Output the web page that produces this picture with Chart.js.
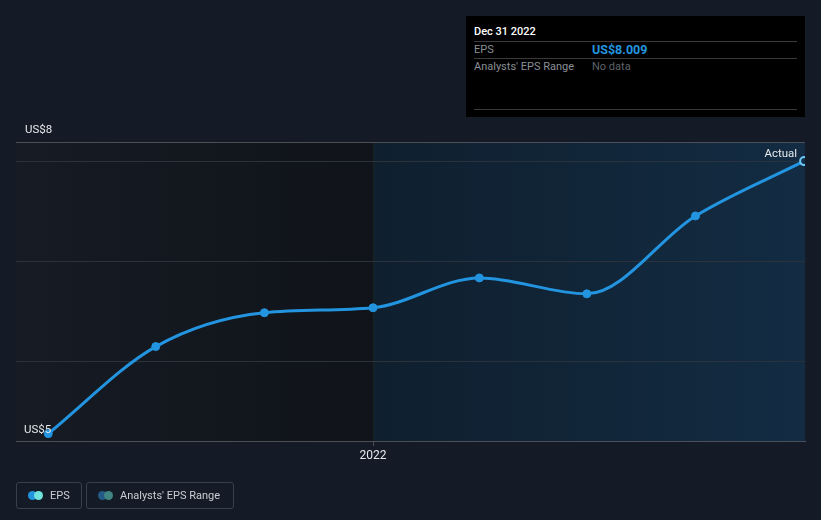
<!DOCTYPE html>
<html>
<head>
<meta charset="utf-8">
<script src="https://cdn.jsdelivr.net/npm/chart.js@4/dist/chart.umd.min.js"></script>
<style>
  html, body { margin:0; padding:0; background:#151b26; }
  body { width:821px; height:520px; position:relative; overflow:hidden; font-family: Roboto, "Noto Sans", Arial, sans-serif; }
  #wrap { position:absolute; left:0; top:0; width:821px; height:520px; }
  #tip { position:absolute; left:466px; top:16px; width:339px; height:101px; background:#000; }
  #tip .t { position:absolute; left:8px; top:9px; font-size:11px; color:#fff; font-weight:500; }
  #tip .sep { position:absolute; left:8px; width:323px; height:1px; background:#3a3a3a; }
  #tip .l { position:absolute; left:8px; font-size:11px; color:#8a8f96; }
  #tip .v { position:absolute; left:126px; font-size:11px; }
  .leg { position:absolute; top:482px; height:25px; border:1px solid #3a404b; border-radius:3px; font-size:11px; color:#c9cdd3; }
  .leg .txt { position:absolute; top:6px; }
  .dot { position:absolute; top:8px; width:9px; height:9px; border-radius:50%; }
</style>
</head>
<body>
<div id="wrap"><canvas id="c" width="821" height="520"></canvas></div>

<div id="tip">
  <div class="t">Dec 31 2022</div>
  <div class="sep" style="top:25px"></div>
  <div class="l" style="top:27px">EPS</div>
  <div class="v" style="top:26px;color:#2394df;font-weight:bold;font-size:12.5px">US$8.009</div>
  <div class="sep" style="top:42px"></div>
  <div class="l" style="top:44px">Analysts' EPS Range</div>
  <div class="v" style="top:44px;color:#5e636a">No data</div>
  <div class="sep" style="top:93px"></div>
</div>

<div class="leg" style="left:16px;width:64px">
  <div class="dot" style="left:11px;background:#2394df"></div>
  <div class="dot" style="left:17px;background:#6fe3dc"></div>
  <div class="txt" style="left:33px">EPS</div>
</div>
<div class="leg" style="left:86px;width:146px">
  <div class="dot" style="left:11px;background:#245a86"></div>
  <div class="dot" style="left:17px;background:#3f8582"></div>
  <div class="txt" style="left:33px">Analysts' EPS Range</div>
</div>

<script>
// ---- data ----
const periodEnds = ['2021-03-31','2021-06-30','2021-09-30','2021-12-31','2022-03-31','2022-06-30','2022-09-30','2022-12-31'];
const epsValues = [5.27, 6.145, 6.485, 6.535, 6.835, 6.675, 7.458, 8.009];
const yGridValues = [6, 7, 8];
const xTickYears = [2022];
const yLabels = ['US$8', 'US$5'];
const actualLabel = 'Actual';
const splitYear = 2022;

function toYear(s) {
  const [y, m, d] = s.split('-').map(Number);
  const start = Date.UTC(y, 0, 1), end = Date.UTC(y + 1, 0, 1);
  return y + (Date.UTC(y, m - 1, d + 1) - start) / (end - start);
}
const points = periodEnds.map((d, i) => ({ x: toYear(d), y: epsValues[i] }));
const lastIdx = points.length - 1;

const bgPlugin = {
  id: 'bg',
  beforeDraw(chart) {
    const { ctx, chartArea: a, scales } = chart;
    const xs = scales.x.getPixelForValue(splitYear);
    ctx.save();
    let g = ctx.createLinearGradient(a.left, 0, xs, 0);
    g.addColorStop(0, '#161b24');
    g.addColorStop(1, '#101319');
    ctx.fillStyle = g;
    ctx.fillRect(a.left, a.top, xs - a.left, a.bottom - a.top);
    g = ctx.createLinearGradient(xs, 0, a.right, 0);
    g.addColorStop(0, '#0f1f2e');
    g.addColorStop(1, '#132c43');
    ctx.fillStyle = g;
    ctx.fillRect(xs, a.top, a.right - xs, a.bottom - a.top);
    ctx.restore();
  },
  afterDraw(chart) {
    const { ctx, chartArea: a } = chart;
    ctx.save();
    ctx.font = '11.5px Roboto, "Noto Sans", Arial, sans-serif';
    ctx.fillStyle = '#e6e8eb';
    ctx.textBaseline = 'middle';
    ctx.textAlign = 'left';
    ctx.fillText(yLabels[0], a.left + 9, a.top - 12);
    ctx.fillText(yLabels[1], a.left + 8, a.bottom - 11);
    const p = chart.getDatasetMeta(0).data[lastIdx];
    ctx.textAlign = 'right';
    ctx.fillText(actualLabel, p.x - 7, p.y - 7);
    ctx.restore();
  }
};

new Chart(document.getElementById('c'), {
  type: 'line',
  data: {
    datasets: [{
      label: 'EPS',
      data: points,
      borderColor: '#2394df',
      borderWidth: 3,
      cubicInterpolationMode: 'monotone',
      pointRadius: 4,
      pointHoverRadius: 4,
      pointBackgroundColor: points.map((p, i) => i === lastIdx ? '#12304a' : '#2394df'),
      pointBorderColor: points.map((p, i) => i === lastIdx ? '#6cc8f5' : '#2394df'),
      pointBorderWidth: points.map((p, i) => i === lastIdx ? 2 : 1),
      fill: false
    }]
  },
  options: {
    responsive: false,
    animation: false,
    events: [],
    layout: { padding: { left: 16, right: 16, top: 142, bottom: 49 } },
    plugins: { legend: { display: false }, tooltip: { enabled: false } },
    scales: {
      x: {
        type: 'linear',
        min: 2021.1717,
        max: 2023.002,
        afterBuildTicks(s) { s.ticks = xTickYears.map(v => ({ value: v })); },
        afterFit(s) { s.height = 30; },
        ticks: {
          color: '#e6e8eb',
          font: { size: 12, family: 'Roboto, "Noto Sans", Arial, sans-serif' },
          padding: 3,
          maxRotation: 0,
          callback: v => String(v)
        },
        grid: { color: '#16231f', tickColor: '#4a4f58', tickLength: 5, lineWidth: 1 },
        border: { display: true, color: '#4a4f58', width: 1 }
      },
      y: {
        type: 'linear',
        min: 5.196,
        max: 8.201,
        afterBuildTicks(s) { s.ticks = yGridValues.concat([8.201]).map(v => ({ value: v })); },
        afterFit(s) { s.width = 0; },
        ticks: { display: false },
        grid: {
          drawTicks: false,
          color: c => (c.tick && c.tick.value > 8.1) ? '#4a4f58' : '#2c323c',
          lineWidth: 1
        },
        border: { display: false }
      }
    }
  },
  plugins: [bgPlugin]
});
</script>
</body>
</html>
